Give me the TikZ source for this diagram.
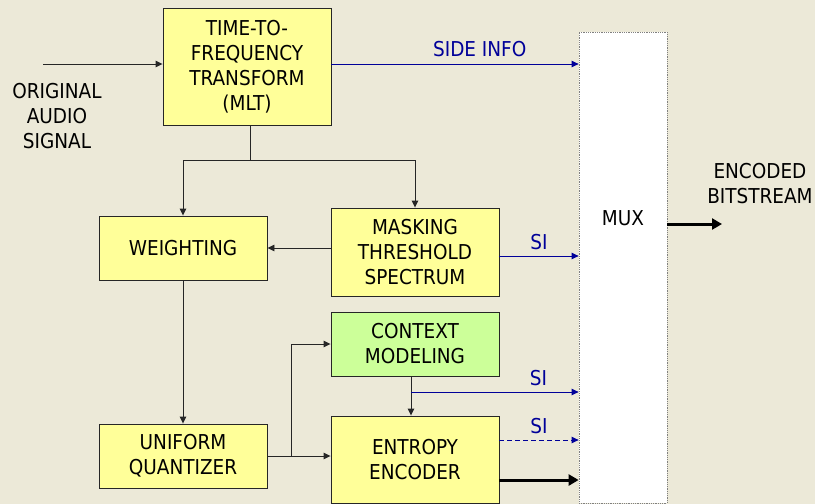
\documentclass[tikz,border=0pt]{standalone}
\usepackage{fontspec}
\setmainfont{DejaVu Sans Condensed}
\usetikzlibrary{arrows.meta}
\definecolor{bgpanel}{RGB}{236,233,216}
\definecolor{boxyellow}{RGB}{255,255,153}
\definecolor{boxgreen}{RGB}{204,255,153}
\definecolor{sinavy}{RGB}{0,0,153}
\begin{document}
\begin{tikzpicture}[x=1pt,y=-1pt,
      every node/.style={font=\fontsize{20.5}{25}\selectfont, align=center, inner sep=0pt},
      block/.style={draw=black!85, line width=0.9pt, fill=boxyellow, minimum width=168pt},
      flow/.style={draw=black!85, line width=0.9pt, -{Triangle[length=7pt,width=6.5pt]}},
      side/.style={draw=sinavy, line width=0.9pt, -{Triangle[length=7pt,width=6.5pt]}},
      bits/.style={draw=black, line width=3pt, -{Triangle[length=10pt,width=11pt]}},
      silabel/.style={text=sinavy}]
    \path[use as bounding box, fill=bgpanel] (0,0) rectangle (815,504);
    % blocks
    \node[block, minimum height=117pt] (ttf) at (247,66.5) {TIME-TO-\\FREQUENCY\\TRANSFORM\\(MLT)};
    \node[block, minimum height=64pt] (weight) at (183,248) {WEIGHTING};
    \node[block, minimum height=88pt] (mask) at (415,252) {MASKING\\THRESHOLD\\SPECTRUM};
    \node[block, minimum height=64pt, fill=boxgreen] (ctx) at (415,344) {CONTEXT\\MODELING};
    \node[block, minimum height=64pt] (quant) at (183,456) {UNIFORM\\QUANTIZER};
    \node[block, minimum height=87pt] (enc) at (415,459.5) {ENTROPY\\ENCODER};
    \node[draw=gray, densely dotted, line width=0.8pt, fill=white,
          minimum width=88pt, minimum height=471pt] (mux) at (623,267.5) {};
    \node (muxtext) at (623,218) {MUX};
    % outside texts
    \node (source) at (57,116) {ORIGINAL\\AUDIO\\SIGNAL};
    \node (target) at (760,184) {ENCODED\\BITSTREAM};
    % connectors
    \coordinate (src) at (43,64);
    \coordinate (fork) at (250,160);
    \coordinate (tap) at (291,456);
    \coordinate (si) at (411,392);
    \coordinate (out) at (722,224);
    \draw[flow] (src) -- (src -| ttf.west);
    \draw[side] (ttf.east |- src) -- (src -| mux.west)
      node[silabel, pos=0.6, above=7pt] (sideinfo) {SIDE INFO};
    \draw[draw=black!85, line width=0.9pt] (fork |- ttf.south) -- (fork);
    \draw[flow] (fork) -| (weight.north);
    \draw[flow] (fork) -| (mask.north);
    \draw[flow] (mask.west |- weight.east) -- (weight.east);
    \draw[side] ([yshift=-4pt]mask.east) -- ([yshift=-4pt]mask.east -| mux.west)
      node[silabel, pos=0.5, above=6pt] (simask) {SI};
    \draw[flow] (weight.south) -- (quant.north);
    \draw[flow] (quant.east) -- (quant.east -| enc.west);
    \draw[flow] (tap) |- (ctx.west);
    \draw[flow] (si |- ctx.south) -- (si |- enc.north);
    \draw[side] (si) -- (si -| mux.west)
      node[silabel, pos=0.76, above=6pt] (sictx) {SI};
    \draw[side, dash pattern=on 5pt off 3pt] ([yshift=19.5pt]enc.east) -- ([yshift=19.5pt]enc.east -| mux.west)
      node[silabel, pos=0.5, above=6pt] (sienc) {SI};
    \draw[bits] ([yshift=-20.5pt]enc.east) -- ([yshift=-20.5pt]enc.east -| mux.west);
    \draw[bits] (out -| mux.east) -- (out);
  \end{tikzpicture}
\end{document}
